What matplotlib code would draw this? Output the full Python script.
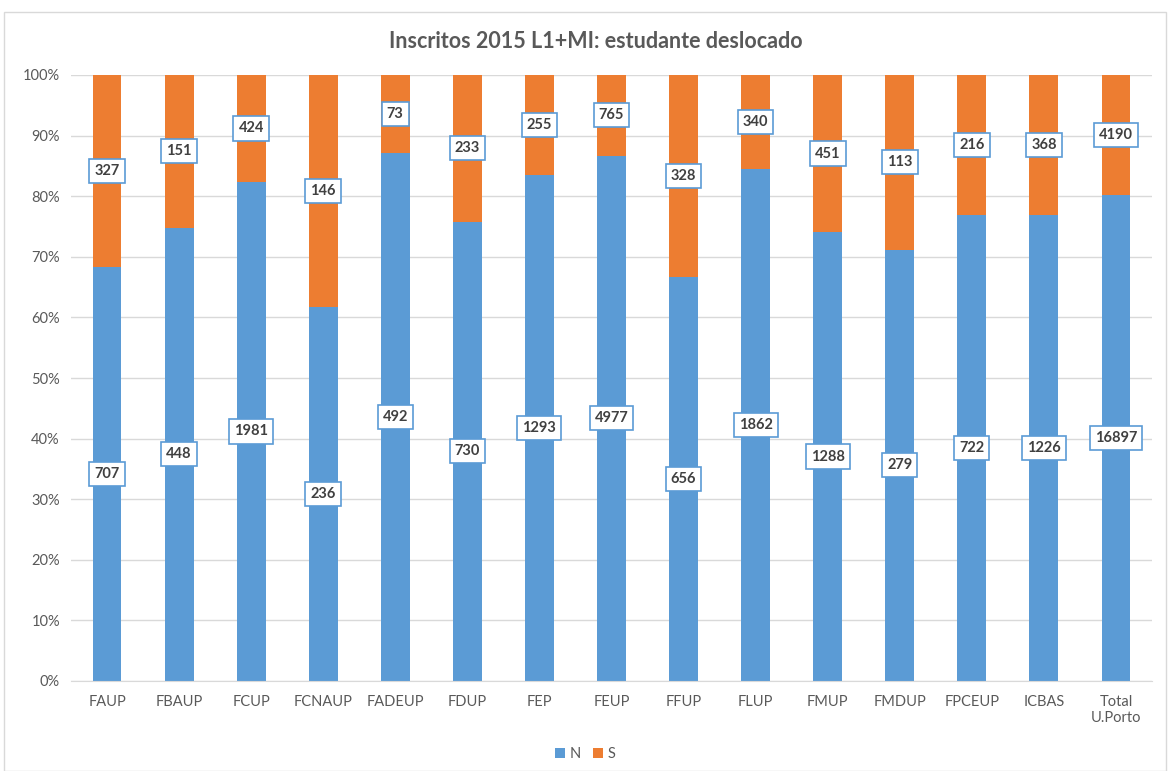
import numpy as np
import matplotlib.pyplot as plt
from matplotlib.patches import Rectangle

# Data
cats = ['FAUP', 'FBAUP', 'FCUP', 'FCNAUP', 'FADEUP', 'FDUP', 'FEP', 'FEUP',
        'FFUP', 'FLUP', 'FMUP', 'FMDUP', 'FPCEUP', 'ICBAS', 'Total\nU.Porto']
n_vals = [707, 448, 1981, 236, 492, 730, 1293, 4977, 656, 1862, 1288, 279, 722, 1226, 16897]
s_vals = [327, 151, 424, 146, 73, 233, 255, 765, 328, 340, 451, 113, 216, 368, 4190]

plt.rcParams['font.family'] = ['Lato', 'DejaVu Sans']
blue = '#5B9BD5'
orange = '#ED7D31'
grey = '#595959'

n = np.array(n_vals, dtype=float)
s = np.array(s_vals, dtype=float)
tot = n + s
pn = n / tot * 100
ps = s / tot * 100
x = np.arange(len(cats))

fig = plt.figure(figsize=(11.7, 7.71), dpi=100)
# chart border
fig.patches.append(Rectangle((4 / 1170, 0), 1 - 8 / 1170, 1 - 12 / 771, transform=fig.transFigure,
                             fill=False, edgecolor='#D9D9D9', linewidth=1))
ax = fig.add_axes([71 / 1170, 90 / 771, 1081 / 1170, 606 / 771])

ax.bar(x, pn, width=0.4, color=blue, label='N', zorder=2)
ax.bar(x, ps, width=0.4, bottom=pn, color=orange, label='S', zorder=2)

box = dict(boxstyle='square,pad=0.35', facecolor='white', edgecolor=blue, linewidth=1.2)
for i in range(len(cats)):
    ax.text(x[i], pn[i] / 2, str(n_vals[i]), ha='center', va='center', fontsize=10.5,
            fontweight='bold', color='#404040', bbox=box, zorder=3)
    ax.text(x[i], pn[i] + ps[i] / 2, str(s_vals[i]), ha='center', va='center', fontsize=10.5,
            fontweight='bold', color='#404040', bbox=box, zorder=3)

ax.set_xlim(-0.5, len(cats) - 0.5)
ax.set_ylim(0, 100)
ax.set_yticks(np.arange(0, 101, 10))
ax.set_yticklabels([f'{v}%' for v in range(0, 101, 10)])
ax.set_xticks(x)
ax.set_xticklabels(cats)
ax.yaxis.grid(True, color='#D9D9D9', linewidth=1, zorder=0)
ax.set_axisbelow(True)
for sp in ['top', 'right', 'left']:
    ax.spines[sp].set_visible(False)
ax.spines['bottom'].set_color('#D9D9D9')
ax.tick_params(axis='both', length=0, colors=grey, labelsize=10.5)
ax.tick_params(axis='x', pad=10)
ax.tick_params(axis='y', pad=8)

fig.text(596 / 1170, 1 - 42 / 771, 'Inscritos 2015 L1+MI: estudante deslocado', ha='center', va='center',
         fontsize=15.5, fontweight='bold', color=grey)

fig.legend(loc='center', bbox_to_anchor=(585 / 1170, 1 - 754 / 771), ncol=2, frameon=False,
           fontsize=10.5, handlelength=0.7, handleheight=0.7, columnspacing=0.8, handletextpad=0.3,
           labelcolor=grey)

fig.savefig('out.png', dpi=100)
